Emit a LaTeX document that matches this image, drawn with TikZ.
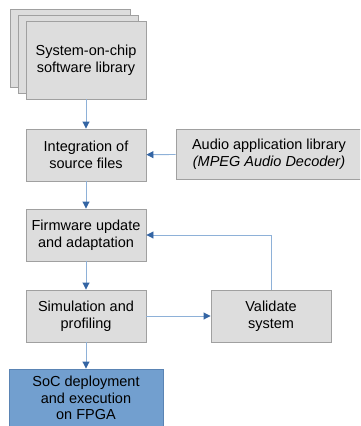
\documentclass[tikz,border=0pt]{standalone}
\usepackage{fontspec}
\setmainfont{Liberation Sans}
\usetikzlibrary{arrows.meta}
\definecolor{boxgray}{HTML}{DDDDDD}
\definecolor{boxline}{HTML}{A0A0A0}
\definecolor{flowline}{HTML}{8EB1D8}
\definecolor{flowtip}{HTML}{3465A4}
\definecolor{socfill}{HTML}{729FCF}
\definecolor{socline}{HTML}{5A84B4}
\begin{document}
\begin{tikzpicture}[x=1pt, y=-1pt,
    stepbox/.style={draw=boxline, fill=boxgray, line width=0.9pt, align=center,
      minimum width=120pt, minimum height=52pt, inner sep=0pt,
      font=\fontsize{14.5}{16.5}\selectfont},
    flow/.style={draw=flowline, line width=0.9pt,
      -{Triangle[length=7pt, width=7pt, color=flowtip]}}]
        \useasboundingbox (0,0) rectangle (360,426);
        \clip (0,0) rectangle (360,426);

        % Pilha de bibliotecas
        \node[stepbox, minimum height=78pt] (lib3) at (70,48) {};
        \node[stepbox, minimum height=78pt] (lib2) at (78,54) {};
        \node[stepbox, minimum height=78pt] (lib) at (86,60) {System-on-chip\\software library};

        % Etapas do fluxo
        \node[stepbox] (integ) at (86,155) {Integration of\\source files};
        \node[stepbox, minimum width=186pt, minimum height=50pt] (audio) at (269,154)
            {Audio application library\\\textit{(MPEG Audio Decoder)}};
        \node[stepbox] (firm) at (86,235) {Firmware update\\and adaptation};
        \node[stepbox] (sim) at (86,316) {Simulation and\\profiling};
        \node[stepbox] (valid) at (271,316) {Validate\\system};
        \node[stepbox, draw=socline, fill=socfill, minimum width=154pt, minimum height=58pt] (soc) at (86,398)
            {SoC deployment\\and execution\\on FPGA};

        % Setas
        \draw[flow] (lib) -- (integ);
        \draw[flow] (audio) -- (integ);
        \draw[flow] (integ) -- (firm);
        \draw[flow] (firm) -- (sim);
        \draw[flow] (sim) -- (valid);
        \draw[flow] (valid.north) |- (firm.east);
        \draw[flow] (sim) -- (soc);
\end{tikzpicture}
\end{document}
